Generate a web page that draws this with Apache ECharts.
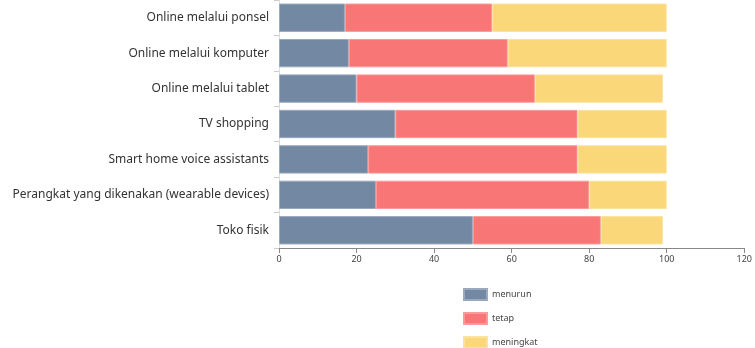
<!DOCTYPE html>
<html>
<head>
    <meta charset="utf-8">
    <script src="https://cdn.jsdelivr.net/npm/echarts@6/dist/echarts.min.js"></script>
</head>
<body style="margin:0">
    <div id="main" style="width: 755px;height:348px;"></div>
    <script>
        // data
        var categories = ['Online melalui ponsel', 'Online melalui komputer', 'Online melalui tablet',
            'TV shopping', 'Smart home voice assistants', 'Perangkat yang dikenakan (wearable devices)', 'Toko fisik'];
        var menurun = [17, 18, 20, 30, 23, 25, 50];
        var tetap = [38, 41, 46, 47, 54, 55, 33];
        var meningkat = [45, 41, 33, 23, 23, 20, 16];
        var xTicks = { min: 0, max: 120, interval: 20 };

        var myChart = echarts.init(document.getElementById('main'));

        function bar(name, data, color, border) {
            return {
                name: name,
                type: 'bar',
                stack: 'total',
                barCategoryGap: '20%',
                data: data,
                itemStyle: { color: color, borderColor: border, borderWidth: 1 }
            };
        }

        var option = {
            animation: false,
            textStyle: { fontFamily: 'Noto Sans' },
            color: ['#7388a3', '#f87676', '#fad778'],
            legend: {
                orient: 'vertical',
                left: 463,
                top: 288,
                height: 90,
                padding: 0,
                itemWidth: 23,
                itemHeight: 11,
                itemGap: 11,
                icon: 'rect',
                textStyle: { fontSize: 9, color: '#444' },
                data: ['menurun', 'tetap', 'meningkat']
            },
            grid: { left: 279, right: 8, top: 0, bottom: 100 },
            xAxis: {
                type: 'value',
                min: xTicks.min,
                max: xTicks.max,
                interval: xTicks.interval,
                splitLine: { show: false },
                axisLine: { show: true, lineStyle: { color: '#888' } },
                axisTick: { show: true, length: 5, lineStyle: { color: '#888' } },
                axisLabel: { fontSize: 9, color: '#444', margin: 7 }
            },
            yAxis: {
                type: 'category',
                inverse: true,
                data: categories,
                axisLine: { show: true, lineStyle: { color: '#ddd' } },
                axisTick: { show: true, length: 5, lineStyle: { color: '#ccc' } },
                axisLabel: { fontSize: 12, color: '#333', margin: 10 }
            },
            series: [
                bar('menurun', menurun, '#7388a3', '#9aa9bd'),
                bar('tetap', tetap, '#f87676', '#fa9a9a'),
                bar('meningkat', meningkat, '#fad778', '#fbe39e')
            ]
        };
        myChart.setOption(option);
    </script>
</body>
</html>
